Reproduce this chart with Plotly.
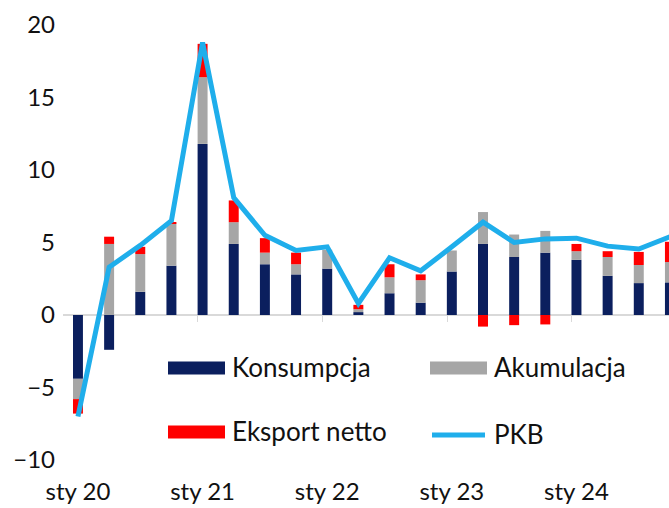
import plotly.graph_objects as go

# Quarterly data, Q1 2020 .. Q4 2024 (contributions, pp)
quarters = list(range(20))
konsumpcja = [-4.4, -2.4, 1.6, 3.4, 11.8, 4.9, 3.5, 2.8, 3.2, 0.2,
              1.5, 0.85, 3.0, 4.9, 4.0, 4.3, 3.8, 2.7, 2.2, 2.25]
akumulacja = [-1.4, 4.9, 2.6, 2.9, 4.6, 1.5, 0.8, 0.7, 1.3, 0.2,
              1.1, 1.55, 1.45, 2.2, 1.55, 1.5, 0.6, 1.3, 1.25, 1.4]
eksport = [-1.0, 0.5, 0.5, 0.1, 2.3, 1.5, 1.0, 0.8, 0.0, 0.3,
           0.9, 0.4, 0.0, -0.8, -0.7, -0.65, 0.5, 0.4, 0.9, 1.4]
pkb = [-7.0, 3.3, 4.8, 6.5, 18.8, 8.1, 5.5, 4.45, 4.7, 0.8,
       3.95, 3.05, 4.7, 6.4, 5.0, 5.25, 5.3, 4.75, 4.55, 5.4]
label_pos = [0, 4, 8, 12, 16]
label_text = ["sty 20", "sty 21", "sty 22", "sty 23", "sty 24"]
tick_pos = [-0.15, 3.85, 7.85, 11.85, 15.85]

names = ["Konsumpcja", "Akumulacja", "Eksport netto", "PKB"]
C_K = "#0B1F5E"
C_A = "#A6A6A6"
C_E = "#FF0000"
C_P = "#1FAEEB"

FONT = "Lato"
W, H = 669, 508
ML, MT = 63, 25
PH = 435
MB = H - MT - PH
MR = 0
XR = [-0.48, 18.97]

fig = go.Figure()
for vals, nm, col in [(konsumpcja, names[0], C_K), (akumulacja, names[1], C_A), (eksport, names[2], C_E)]:
    fig.add_trace(go.Bar(x=quarters, y=vals, name=nm, marker=dict(color=col, line=dict(width=0)),
                         width=0.32, showlegend=False))
fig.add_trace(go.Scatter(x=quarters, y=pkb, name=names[3], mode="lines",
                         line=dict(color=C_P, width=5), showlegend=False))

fig.update_layout(
    width=W, height=H,
    margin=dict(l=ML, r=MR, t=MT, b=MB, autoexpand=False),
    paper_bgcolor="white", plot_bgcolor="white",
    barmode="relative",
    font=dict(family=FONT, size=24, color="#111111"),
    xaxis=dict(range=XR, tickvals=label_pos, ticktext=label_text, showgrid=False,
               zeroline=False, showline=False, ticks="", ticklabelstandoff=15),
    xaxis2=dict(range=XR, overlaying="x", anchor="free", position=1/3, side="bottom",
                showline=True, linecolor="#D9D9D9", linewidth=2, ticks="outside",
                ticklen=6, tickwidth=1, tickcolor="#D9D9D9", tickvals=tick_pos,
                showticklabels=False, showgrid=False, zeroline=False, layer="below traces"),
    yaxis=dict(range=[-10, 20], tickvals=[-10, -5, 0, 5, 10, 15, 20], showgrid=False,
               zeroline=False, showline=False, ticks="", ticklabelstandoff=7),
)
# dummy trace to activate xaxis2
fig.add_trace(go.Scatter(x=[None], y=[None], xaxis="x2", showlegend=False, hoverinfo="skip"))

pw, ph = W - ML - MR, H - MT - MB
def px(xp):
    return (xp - ML) / pw
def py(yp):
    return (H - MB - yp) / ph

# custom legend (layout decoration), positions in screen pixels
legend_items = [
    (names[0], C_K, "bar", 168, 368),
    (names[1], C_A, "bar", 430, 368),
    (names[2], C_E, "bar", 168, 432),
    (names[3], C_P, "line", 430, 435),
]
for nm, col, kind, x0, yc in legend_items:
    if kind == "bar":
        fig.add_shape(type="rect", xref="paper", yref="paper", x0=px(x0), x1=px(x0 + 57),
                      y0=py(yc + 6.5), y1=py(yc - 6.5), fillcolor=col, line=dict(width=0))
    else:
        fig.add_shape(type="line", xref="paper", yref="paper", x0=px(x0 + 2), x1=px(x0 + 55),
                      y0=py(yc), y1=py(yc), line=dict(color=col, width=5))
    fig.add_annotation(xref="paper", yref="paper", x=px(x0 + 62), y=py(yc - 1), text=nm,
                       showarrow=False, xanchor="left", yanchor="middle",
                       font=dict(family=FONT, size=26, color="#111111"))

fig.write_html("out.html", config={"displayModeBar": False},
               post_script="document.body.style.margin='0';document.body.style.overflow='hidden';")
